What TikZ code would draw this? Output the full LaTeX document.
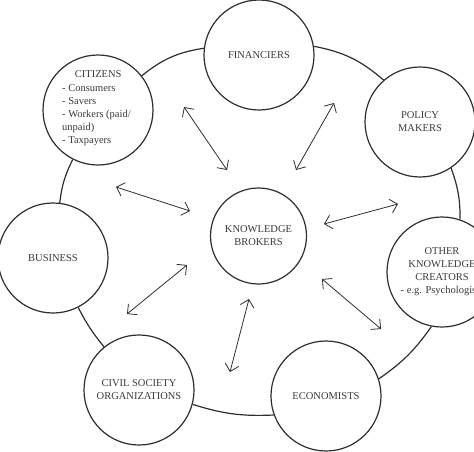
\documentclass[tikz,border=0pt]{standalone}
\usepackage{fontspec}
\setmainfont{Liberation Serif}
\usetikzlibrary{arrows.meta}
\definecolor{ink}{HTML}{2E2E2E}
\definecolor{txt}{HTML}{3A3A3A}
\begin{document}
\begin{tikzpicture}[x=1pt,y=1pt,
  actor/.style={circle,draw=ink,line width=1.2pt,minimum size=110pt,inner sep=0pt,
    align=center,text=txt,font=\fontsize{10.5}{13}\selectfont},
  hub/.style={actor,minimum size=96pt},
  ring/.style={draw=ink,line width=1.2pt},
  link/.style={draw=ink,line width=0.8pt,{Straight Barb[length=7pt,width=14pt]}-{Straight Barb[length=7pt,width=14pt]}}]
\useasboundingbox (0,0) rectangle (474,-452);
\clip (0,0) rectangle (474,-452);
\node[hub] (kb) at (258.5,-236) {KNOWLEDGE\\BROKERS};
\node[actor] (fin) at (259,-55) {FINANCIERS};
\node[actor] (cit) at (98,-110) {};
\node[align=left,text=txt,font=\fontsize{10.5}{13}\selectfont,anchor=north west,inner sep=0pt] (citt) at (62,-70)
  {\makebox[72pt][c]{CITIZENS}\\[1.5pt]- Consumers\\- Savers\\- Workers (paid/\\unpaid)\\- Taxpayers};
\node[actor] (pol) at (420,-122) {POLICY\\MAKERS};
\node[actor] (oth) at (442,-272) {OTHER\\KNOWLEDGE\\CREATORS\\- e.g. Psychologists};
\node[actor] (eco) at (326,-396) {ECONOMISTS};
\node[actor] (civ) at (139,-390) {CIVIL SOCIETY\\ORGANIZATIONS};
\node[actor] (bus) at (53,-258) {BUSINESS};
% outer ring
\draw[ring] (cit.38) to[bend left=15] (fin.173);
\draw[ring] (fin.9) to[bend left=15] (pol.131);
\draw[ring] (pol.-56) to[bend left=10] (oth.71);
\draw[ring] (oth.259) to[bend left=10] (eco.18);
\draw[ring] (eco.200) to[bend left=10] (civ.345);
\draw[ring] (civ.129) to[bend left=6] (bus.-63);
\draw[ring] (bus.83) to[bend left=10] (cit.243);
% arrows
\coordinate (a1s) at (116,-187); \coordinate (a1e) at (190,-211);
\coordinate (a2s) at (184,-107); \coordinate (a2e) at (227,-170);
\coordinate (a3s) at (334,-103); \coordinate (a3e) at (296,-170);
\coordinate (a4s) at (398,-204); \coordinate (a4e) at (324,-224);
\coordinate (a5s) at (322,-279); \coordinate (a5e) at (381,-329);
\coordinate (a6s) at (249,-299); \coordinate (a6e) at (230,-372);
\coordinate (a7s) at (187,-265); \coordinate (a7e) at (127,-314);
\draw[link] (a1s) -- (a1e);
\draw[link] (a2s) -- (a2e);
\draw[link] (a3s) -- (a3e);
\draw[link] (a4s) -- (a4e);
\draw[link] (a5s) -- (a5e);
\draw[link] (a6s) -- (a6e);
\draw[link] (a7s) -- (a7e);
\end{tikzpicture}
\end{document}
